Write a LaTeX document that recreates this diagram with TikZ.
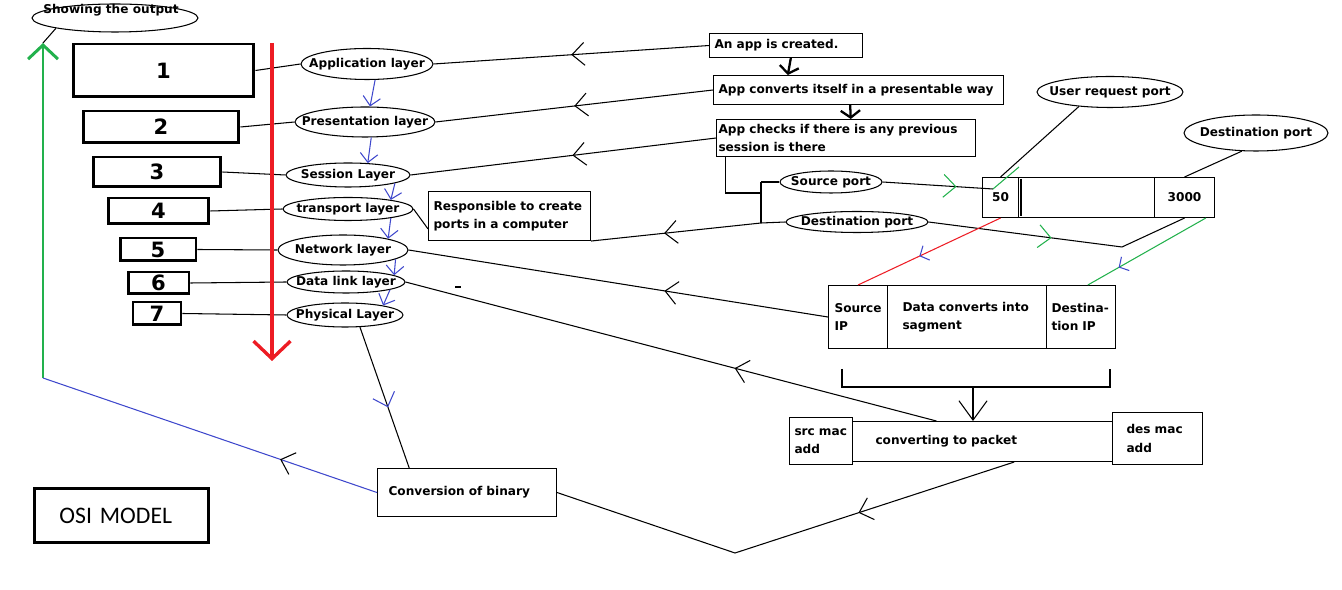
\documentclass[tikz,border=0pt]{standalone}
\usepackage{fontspec}
\setmainfont{DejaVu Sans}
\newfontfamily\osifont{Carlito}
\usetikzlibrary{shapes.geometric,arrows.meta,decorations.markings}
\definecolor{pgreen}{RGB}{34,177,76}
\definecolor{pred}{RGB}{237,28,36}
\definecolor{pblue}{RGB}{63,72,204}
\begin{document}
\begin{tikzpicture}[x=0.02cm,y=-0.02cm,line width=0.6pt,
	every node/.style={font=\bfseries\fontsize{6.9}{10.5}\selectfont},
	lay/.style={ellipse,draw,inner sep=0pt,
		execute at begin node={\hbox to 0pt\bgroup\hss},
		execute at end node={\hss\egroup}},
	numbox/.style={draw,line width=1.7pt,inner sep=0pt,font=\bfseries\fontsize{12}{14}\selectfont},
	txtbox/.style={draw,anchor=north west,align=left,inner ysep=0pt},
	cell/.style={draw,anchor=north west,inner sep=0pt},
	barb/.style={pblue,-{Straight Barb[length=5pt,width=10pt]}},
	thickarr/.style={line width=1.3pt,-{Straight Barb[length=4pt,width=11pt]}},
	midarr/.style 2 args={postaction={decorate},decoration={markings,
		mark=at position #1 with {\arrow[#2]{Straight Barb[length=7pt,width=13pt]}}}},
	midarrs/.style 2 args={postaction={decorate},decoration={markings,
		mark=at position #1 with {\arrow[#2]{Straight Barb[length=4pt,width=9pt]}}}}]
\useasboundingbox (0,0) rectangle (1342,590);
% left side: output, numbers and layers
\node[ellipse,draw,minimum width=3.32cm,minimum height=0.56cm,inner sep=0pt] (out) at (115,18) {};
\node (outtxt) at (111,10) {Showing the output};
\coordinate (gtop) at (43,43);
\coordinate (gbot) at (43,378);
\coordinate (rtop) at (272,43);
\coordinate (rbot) at (272,361);
\draw (out.south west) -- (gtop);
\draw[pgreen,line width=1.7pt,-{Straight Barb[length=8pt,width=17pt]}] (gbot) -- (gtop);
\foreach \i/\x/\y/\w/\h in {1/163.5/70.5/3.62/1.06,2/161/127/3.12/0.64,3/157/172/2.56/0.60,
	4/158.5/211/2.02/0.52,5/158/249.5/1.52/0.46,6/158.5/283/1.22/0.44,7/157/313.5/0.96/0.46}{
	\node[numbox,minimum width=\w cm,minimum height=\h cm] (n\i) at (\x,\y) {\i};
}
\node[lay,minimum width=2.64cm,minimum height=0.62cm] (app) at (367,64) {Application layer};
\node[lay,minimum width=2.80cm,minimum height=0.60cm] (pres) at (365,122) {Presentation layer};
\node[lay,minimum width=2.48cm,minimum height=0.48cm] (sess) at (348,175) {Session Layer};
\node[lay,minimum width=2.60cm,minimum height=0.46cm] (trans) at (348,209) {transport layer};
\node[lay,minimum width=2.60cm,minimum height=0.60cm] (net) at (343,250) {Network layer};
\node[lay,minimum width=2.36cm,minimum height=0.44cm] (dlink) at (346,282) {Data link layer};
\node[lay,minimum width=2.32cm,minimum height=0.48cm] (phys) at (345,315) {Physical Layer};
\foreach \n/\l in {n1/app,n2/pres,n3/sess,n4/trans,n5/net,n6/dlink,n7/phys}{
	\draw (\n.east) -- (\l.west);
}
\draw[pred,line width=1.9pt,-{Straight Barb[length=10pt,width=21pt]}] (rtop) -- (rbot);
\draw[barb] (app.-63) -- (pres.72);
\draw[barb] (pres.-68) -- (sess.31);
\draw[barb] (sess.-10) -- (trans.12);
\draw[barb] (trans.-12) -- (net.14);
\draw[barb] (net.-10) -- (dlink.8);
\draw[barb] (dlink.-10) -- (phys.14);
\node[txtbox,line width=1.7pt,font=\osifont\fontsize{13.5}{16}\selectfont,inner xsep=0.5cm,
	text width=2.48cm,minimum height=1.08cm] (osi) at (33,487) {OSI MODEL};
% right side: steps
\node[txtbox,inner xsep=0.1cm,text width=2.86cm,minimum height=0.48cm] (appbox) at (709,33) {An app is created.};
\node[txtbox,inner xsep=0.1cm,text width=5.6cm,minimum height=0.58cm] (presbox) at (713,75) {App converts itself in a presentable way};
\node[txtbox,inner xsep=0.04cm,text width=5.1cm,minimum height=0.74cm] (sessbox) at (716,119) {App checks if there is any previous\\session is there};
\node[txtbox,inner xsep=0.1cm,text width=3.04cm,minimum height=0.98cm] (respbox) at (428,191) {Responsible to create\\ports in a computer};
\node[txtbox,inner xsep=0.22cm,text width=3.14cm,minimum height=0.96cm] (binbox) at (377,468) {Conversion of binary};
\draw[thickarr] (appbox.-69) -- (presbox.168);
\draw[thickarr] (presbox.-119) -- (sessbox.76);
\draw[midarr={0.5}{black}] (appbox.west) -- (app.east);
\draw[midarr={0.5}{black}] (presbox.west) -- (pres.east);
\draw[midarr={0.47}{black}] (sessbox.west) -- (sess.east);
\draw (trans.east) -- (respbox.-171);
% ports
\node[lay,minimum width=2.04cm,minimum height=0.44cm] (sport) at (831,182) {Source port};
\node[lay,minimum width=2.84cm,minimum height=0.42cm] (dport) at (857,222) {Destination port};
\node[lay,minimum width=2.92cm,minimum height=0.62cm] (ureq) at (1110,92) {User request port};
\node[lay,minimum width=2.88cm,minimum height=0.72cm] (dest) at (1256,133) {Destination port};
\coordinate (jm) at (761,193);
\coordinate (js) at (761,182);
\coordinate (jd) at (761,223);
\draw (sessbox.-171) |- (jm);
\draw (js) -- (jd);
\draw (js) -- (sport.west);
\draw (jd) -- (dport.west);
\draw[midarr={0.57}{black}] (jd) -- (respbox.south east);
\node[cell,minimum width=0.72cm,minimum height=0.80cm] (p50) at (982,177) {50};
\node[cell,minimum width=2.72cm,minimum height=0.80cm] (pmid) at (1018,177) {};
\node[cell,minimum width=1.20cm,minimum height=0.80cm] (p3000) at (1154,177) {3000};
\draw (1021,179) -- (1021,216);
\coordinate (gp) at (993,189);
\coordinate (gq) at (1019,167);
\coordinate (dbend) at (1122,247);
\draw[midarr={0.67}{pgreen}] (sport.east) -- (gp);
\draw[pgreen] (gp) -- (gq);
\draw (ureq.-155) -- (p50.north);
\draw (dest.-128) -- (p3000.north);
\draw[midarr={0.47}{pgreen}] (dport.east) -- (dbend) -- (p3000.south);
% segment
\node[txtbox,inner xsep=0.12cm,text width=0.94cm,minimum height=1.26cm] (srcip) at (828,285) {Source\\IP};
\node[txtbox,inner xsep=0.3cm,text width=2.58cm,minimum height=1.26cm] (data) at (887,285) {Data converts into\\sagment};
\node[txtbox,inner xsep=0.1cm,text width=1.18cm,minimum height=1.26cm] (dstip) at (1046,285) {Destina-\\tion IP};
\draw[pred,midarrs={0.57}{pblue}] (p50.south) -- (srcip.north);
\draw[pgreen,midarrs={0.74}{pblue}] (p3000.-44) -- (dstip.78);
\draw[midarr={0.39}{black}] (srcip.west) -- (net.east);
% packet
\node[txtbox,inner xsep=0.1cm,text width=1.06cm,minimum height=0.94cm] (srcmac) at (789,417) {src mac\\add};
\node[txtbox,inner xsep=0.46cm,text width=4.28cm,minimum height=0.80cm] (pkt) at (852,421) {converting to packet};
\node[txtbox,inner xsep=0.28cm,text width=1.24cm,minimum height=1.04cm] (desmac) at (1112,412) {des mac\\add};
\coordinate (bl) at (842,369);
\coordinate (br) at (1110,369);
\coordinate (bm) at (973,387);
\draw (bl) -- (bl |- bm) -- (br |- bm) -- (br);
\draw[-{Straight Barb[length=11pt,width=16pt]}] (bm) -- (bm |- pkt.north);
\draw[midarr={0.38}{black}] (pkt.156) -- (dlink.east);
\draw (455,287) -- (461,287);
% back to the start
\coordinate (vb) at (735,553);
\draw[midarr={0.34}{black}] (pkt.-33) -- (vb) -- (binbox.east);
\draw[midarr={0.57}{pblue}] (phys.-39) -- (binbox.157);
\draw[pblue,midarr={0.29}{black}] (binbox.west) -- (gbot);
\end{tikzpicture}
\end{document}
